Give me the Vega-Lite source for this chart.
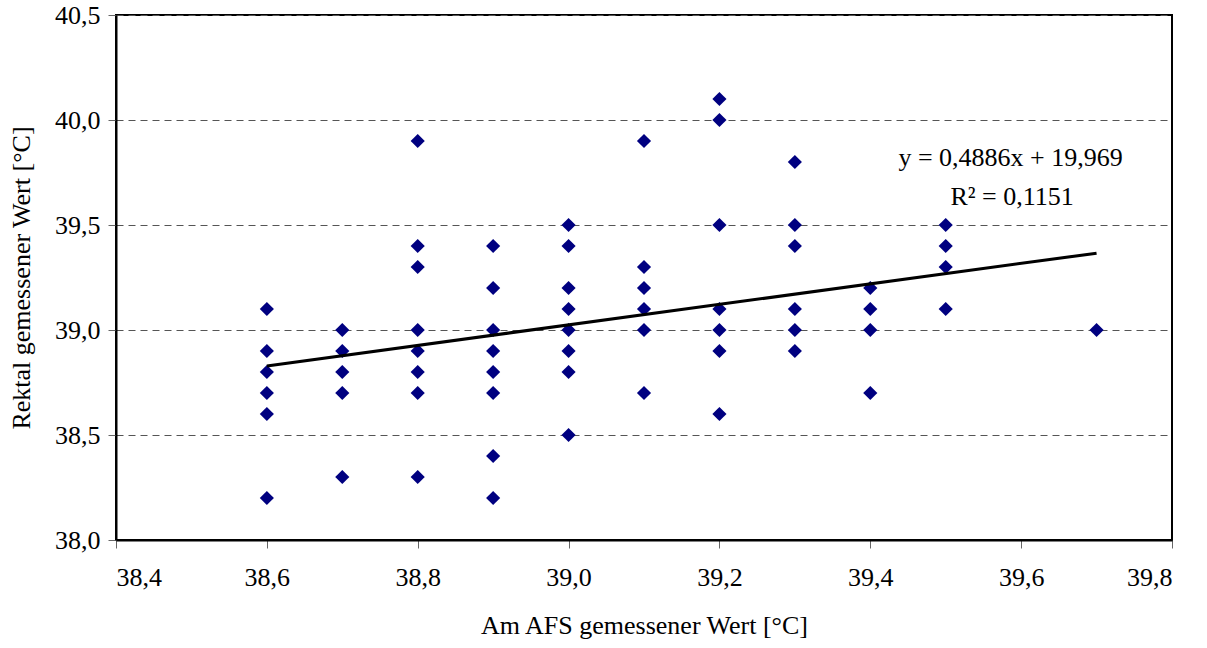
{
  "$schema": "https://vega.github.io/schema/vega-lite/v6.json",
  "width": 1056,
  "height": 525,
  "autosize": {"type": "none"},
  "padding": {"left": 116, "top": 15, "right": 35, "bottom": 108},
  "background": "white",
  "config": {
    "font": "Liberation Serif",
    "view": {"stroke": "black", "strokeWidth": 2},
    "axis": {
      "labelFont": "Liberation Serif",
      "titleFont": "Liberation Serif",
      "labelFontSize": 26,
      "titleFontSize": 26,
      "titleFontWeight": "normal",
      "labelColor": "black",
      "titleColor": "black",
      "domainColor": "black",
      "domainWidth": 2,
      "tickColor": "#666",
      "tickSize": 8,
      "tickWidth": 1
    }
  },
  "datasets": {
    "pts": [
      {"afs": 38.6, "rektal": 39.1}, {"afs": 38.6, "rektal": 38.9}, {"afs": 38.6, "rektal": 38.8}, {"afs": 38.6, "rektal": 38.7}, {"afs": 38.6, "rektal": 38.6}, {"afs": 38.6, "rektal": 38.2},
      {"afs": 38.7, "rektal": 39.0}, {"afs": 38.7, "rektal": 38.9}, {"afs": 38.7, "rektal": 38.8}, {"afs": 38.7, "rektal": 38.7}, {"afs": 38.7, "rektal": 38.3},
      {"afs": 38.8, "rektal": 39.9}, {"afs": 38.8, "rektal": 39.4}, {"afs": 38.8, "rektal": 39.3}, {"afs": 38.8, "rektal": 39.0}, {"afs": 38.8, "rektal": 38.9}, {"afs": 38.8, "rektal": 38.8}, {"afs": 38.8, "rektal": 38.7}, {"afs": 38.8, "rektal": 38.3},
      {"afs": 38.9, "rektal": 39.4}, {"afs": 38.9, "rektal": 39.2}, {"afs": 38.9, "rektal": 39.0}, {"afs": 38.9, "rektal": 38.9}, {"afs": 38.9, "rektal": 38.8}, {"afs": 38.9, "rektal": 38.7}, {"afs": 38.9, "rektal": 38.4}, {"afs": 38.9, "rektal": 38.2},
      {"afs": 39.0, "rektal": 39.5}, {"afs": 39.0, "rektal": 39.4}, {"afs": 39.0, "rektal": 39.2}, {"afs": 39.0, "rektal": 39.1}, {"afs": 39.0, "rektal": 39.0}, {"afs": 39.0, "rektal": 38.9}, {"afs": 39.0, "rektal": 38.8}, {"afs": 39.0, "rektal": 38.5},
      {"afs": 39.1, "rektal": 39.9}, {"afs": 39.1, "rektal": 39.3}, {"afs": 39.1, "rektal": 39.2}, {"afs": 39.1, "rektal": 39.1}, {"afs": 39.1, "rektal": 39.0}, {"afs": 39.1, "rektal": 38.7},
      {"afs": 39.2, "rektal": 40.1}, {"afs": 39.2, "rektal": 40.0}, {"afs": 39.2, "rektal": 39.5}, {"afs": 39.2, "rektal": 39.1}, {"afs": 39.2, "rektal": 39.0}, {"afs": 39.2, "rektal": 38.9}, {"afs": 39.2, "rektal": 38.6},
      {"afs": 39.3, "rektal": 39.8}, {"afs": 39.3, "rektal": 39.5}, {"afs": 39.3, "rektal": 39.4}, {"afs": 39.3, "rektal": 39.1}, {"afs": 39.3, "rektal": 39.0}, {"afs": 39.3, "rektal": 38.9},
      {"afs": 39.4, "rektal": 39.2}, {"afs": 39.4, "rektal": 39.1}, {"afs": 39.4, "rektal": 39.0}, {"afs": 39.4, "rektal": 38.7},
      {"afs": 39.5, "rektal": 39.5}, {"afs": 39.5, "rektal": 39.4}, {"afs": 39.5, "rektal": 39.3}, {"afs": 39.5, "rektal": 39.1},
      {"afs": 39.7, "rektal": 39.0}
    ],
    "trend": [
      {"afs": 38.6, "rektal": 38.829},
      {"afs": 39.7, "rektal": 39.366}
    ],
    "notes": [
      {"afs": 39.586, "rektal": 39.819, "label": "y = 0,4886x + 19,969"},
      {"afs": 39.588, "rektal": 39.633, "label": "R² = 0,1151"}
    ]
  },
  "encoding": {
    "x": {
      "field": "afs", "type": "quantitative",
      "scale": {"domain": [38.4, 39.8], "nice": false, "zero": false},
      "axis": {
        "title": "Am AFS gemessener Wert [°C]",
        "labelFont": "Liberation Serif",
        "titleFont": "Liberation Serif",
        "values": [38.4, 38.6, 38.8, 39.0, 39.2, 39.4, 39.6, 39.8],
        "labelExpr": "replace(format(datum.value, '.1f'), '.', ',')",
        "grid": false,
        "labelPadding": 16,
        "titlePadding": 22
      }
    },
    "y": {
      "field": "rektal", "type": "quantitative",
      "scale": {"domain": [38.0, 40.5], "nice": false, "zero": false},
      "axis": {
        "title": "Rektal gemessener Wert [°C]",
        "labelFont": "Liberation Serif",
        "titleFont": "Liberation Serif",
        "values": [38.0, 38.5, 39.0, 39.5, 40.0, 40.5],
        "labelExpr": "replace(format(datum.value, '.1f'), '.', ',')",
        "grid": true,
        "gridDash": [7, 5],
        "gridColor": "#555",
        "gridWidth": 1,
        "labelPadding": 8,
        "titlePadding": 20
      }
    }
  },
  "layer": [
    {
      "data": {"name": "pts"},
      "mark": {"type": "point", "shape": "diamond", "filled": true, "size": 200, "color": "#000080", "opacity": 1}
    },
    {
      "data": {"name": "trend"},
      "mark": {"type": "line", "color": "black", "strokeWidth": 3}
    },
    {
      "data": {"name": "notes"},
      "mark": {"type": "text", "font": "Liberation Serif", "fontSize": 26, "color": "black", "align": "center", "baseline": "middle"},
      "encoding": {"text": {"field": "label"}}
    }
  ]
}
